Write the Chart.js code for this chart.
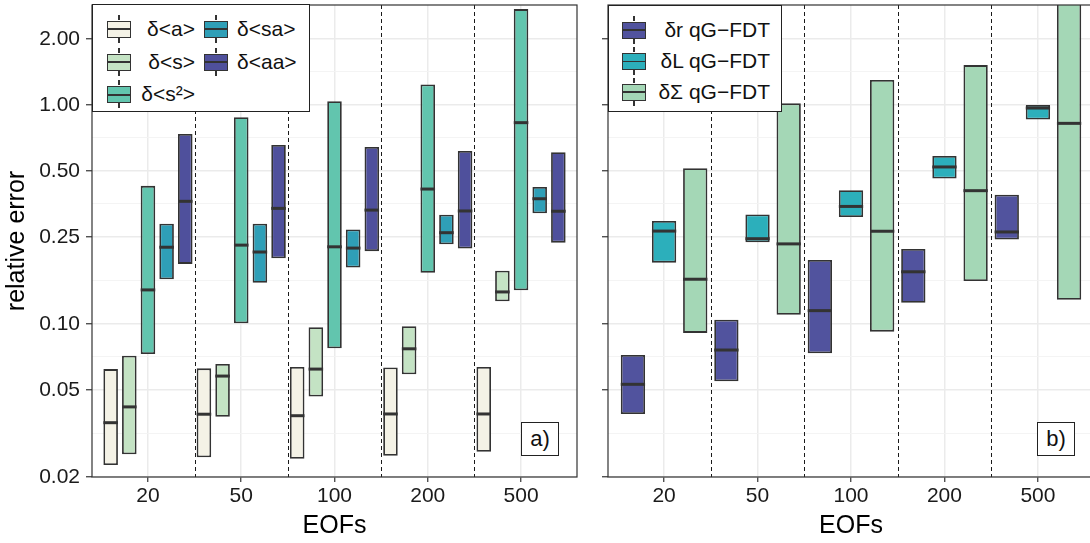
<!DOCTYPE html>
<html>
<head>
<meta charset="utf-8">
<title>relative error vs EOFs</title>
<script src="https://cdn.jsdelivr.net/npm/chart.js@4.4.0/dist/chart.umd.min.js"></script>
<style>
  html, body { margin: 0; padding: 0; background: #fff; overflow: hidden; }
  body { width: 1090px; height: 543px; position: relative; font-family: "Liberation Sans", Arial, sans-serif; }
  canvas { position: absolute; top: 0; }
  #panelA { left: 0; }
  #panelB { left: 590px; }
  .legend { position: absolute; background: #fff; border: 1px solid #222; box-sizing: border-box; }
  .key { position: absolute; width: 24px; height: 17px; box-sizing: border-box; border: 1.8px solid #333; }
  .key::before, .key::after { content: ''; position: absolute; left: calc(50% - 0.75px); width: 1.5px; height: 5px; background: #333; }
  .key::before { top: -6.8px; }
  .key::after { bottom: -6.8px; }
  .lab { position: absolute; font-size: 21px; line-height: 22px; color: #111; white-space: nowrap; }
  .tag { position: absolute; background: #fff; border: 1px solid #222; box-sizing: border-box; font-size: 22px; text-align: center; color: #111; }
</style>
</head>
<body>
<canvas id="panelA" width="590" height="543"></canvas>
<canvas id="panelB" width="515" height="543"></canvas>
<div class="legend" style="left:92px; top:4px; width:218px; height:108px;"></div>
<div class="legend" style="left:608px; top:5px; width:174px; height:107px;"></div>
<div class="tag" style="left:521px; top:422px; width:38px; height:34px; line-height:32px;">a)</div>
<div class="tag" style="left:1037px; top:422px; width:38px; height:34px; line-height:32px;">b)</div>
<script>
const eofs = ['20', '50', '100', '200', '500'];

// y breaks (log scale) and the minor lines between them
const yBreaks = [0.02, 0.05, 0.10, 0.25, 0.50, 1.00, 2.00];
const yMinor = [0.0316, 0.0707, 0.158, 0.354, 0.707, 1.414];
const yMin = 0.02, yMax = 2.86;

// panel a) : observables
const aNames = ['δ<a>', 'δ<s>', 'δ<s²>', 'δ<sa>', 'δ<aa>'];
const aColors = ['#f4f2e6', '#c4e3c4', '#62c5ae', '#2f9fb7', '#4f509c'];

const dA_low  = [0.0227, 0.0246, 0.0242, 0.0250, 0.0261];
const dA_med  = [0.0354, 0.0387, 0.0381, 0.0388, 0.0388];
const dA_high = [0.0622, 0.0627, 0.0636, 0.0633, 0.0636];

const dS_low  = [0.0254, 0.0377, 0.0466, 0.0589, 0.127];
const dS_med  = [0.0418, 0.0578, 0.0622, 0.0770, 0.140];
const dS_high = [0.0716, 0.0656, 0.0966, 0.0976, 0.175];

const dS2_low  = [0.0729, 0.1007, 0.0774, 0.1714, 0.1425];
const dS2_med  = [0.143, 0.229, 0.225, 0.413, 0.830];
const dS2_high = [0.427, 0.878, 1.04, 1.24, 2.74];

const dSA_low  = [0.160, 0.154, 0.181, 0.231, 0.320];
const dSA_med  = [0.224, 0.213, 0.222, 0.261, 0.373];
const dSA_high = [0.287, 0.287, 0.270, 0.315, 0.422];

const dAA_low  = [0.188, 0.1995, 0.215, 0.221, 0.235];
const dAA_med  = [0.363, 0.337, 0.331, 0.328, 0.327];
const dAA_high = [0.737, 0.656, 0.643, 0.616, 0.608];

// panel b) : qG-FDT response
const bNames = ['δr qG−FDT', 'δL qG−FDT', 'δΣ qG−FDT'];
const bColors = ['#51539e', '#2cafbb', '#a4d7b6'];

const dR_low  = [0.0388, 0.0547, 0.0734, 0.125, 0.243];
const dR_med  = [0.053, 0.076, 0.115, 0.173, 0.263];
const dR_high = [0.0721, 0.1045, 0.196, 0.220, 0.389];

const dL_low  = [0.1905, 0.236, 0.308, 0.461, 0.857];
const dL_med  = [0.2655, 0.245, 0.344, 0.521, 0.968];
const dL_high = [0.295, 0.316, 0.408, 0.585, 1.00];

const dSig_low  = [0.091, 0.110, 0.0922, 0.157, 0.129];
const dSig_med  = [0.160, 0.232, 0.265, 0.406, 0.824];
const dSig_high = [0.514, 1.017, 1.30, 1.52, 3.30];

Chart.defaults.font.family = '"Liberation Sans", Arial, sans-serif';

function boxSet(label, color, low, med, high) {
  return {
    label: label,
    data: low.map((v, i) => [v, high[i]]),
    medians: med,
    backgroundColor: color,
    borderColor: '#333',
    borderWidth: 1.8,
    borderSkipped: false,
    categoryPercentage: 1.0,
    barPercentage: 0.78
  };
}

// dashed separators, median bars and the panel frame
const panelDecor = {
  id: 'panelDecor',
  beforeDatasetsDraw(chart) {
    const { ctx, chartArea, scales: { x } } = chart;
    ctx.save();
    ctx.strokeStyle = '#1a1a1a';
    ctx.lineWidth = 1;
    ctx.setLineDash([4, 3]);
    for (let i = 0; i < eofs.length - 1; i++) {
      const px = Math.round((x.getPixelForValue(i) + x.getPixelForValue(i + 1)) / 2) + 0.5;
      ctx.beginPath();
      ctx.moveTo(px, chartArea.top);
      ctx.lineTo(px, chartArea.bottom);
      ctx.stroke();
    }
    ctx.restore();
  },
  afterDatasetsDraw(chart) {
    const { ctx, chartArea, scales: { y } } = chart;
    ctx.save();
    ctx.beginPath();
    ctx.rect(chartArea.left, chartArea.top, chartArea.width, chartArea.height);
    ctx.clip();
    ctx.strokeStyle = '#333';
    ctx.lineWidth = 3;
    chart.data.datasets.forEach((ds, di) => {
      chart.getDatasetMeta(di).data.forEach((bar, i) => {
        const py = y.getPixelForValue(ds.medians[i]);
        ctx.beginPath();
        ctx.moveTo(bar.x - bar.width / 2, py);
        ctx.lineTo(bar.x + bar.width / 2, py);
        ctx.stroke();
      });
    });
    ctx.restore();
    ctx.save();
    ctx.strokeStyle = '#333';
    ctx.lineWidth = 1.2;
    ctx.strokeRect(chartArea.left, chartArea.top, chartArea.width, chartArea.height);
    ctx.restore();
  }
};

const isBreak = v => yBreaks.some(b => Math.abs(b - v) < 1e-9);

function makePanel(id, datasets, showY, padRight) {
  return new Chart(document.getElementById(id), {
    type: 'bar',
    data: { labels: eofs, datasets: datasets },
    plugins: [panelDecor],
    options: {
      responsive: false,
      devicePixelRatio: 1,
      animation: false,
      layout: { padding: { top: 5, right: padRight, left: 0, bottom: 0 } },
      plugins: { legend: { display: false }, tooltip: { enabled: false } },
      scales: {
        x: {
          type: 'category',
          offset: true,
          // ggplot style expansion: 0.6 of a category on each side
          afterBuildTicks(scale) {
            scale._startValue = -0.6;
            scale._valueRange = eofs.length + 0.2;
          },
          afterFit(scale) { scale.height = 66; },
          border: { display: false },
          grid: { offset: false, color: '#ebebeb', lineWidth: 1.5, tickColor: '#333', tickWidth: 1.2, tickLength: 5 },
          ticks: { color: '#1a1a1a', font: { size: 21 }, padding: 2, maxRotation: 0 },
          title: { display: true, text: 'EOFs', color: '#000', font: { size: 25 }, padding: { top: 0, bottom: 2 } }
        },
        y: {
          type: 'logarithmic',
          min: yMin,
          max: yMax,
          bounds: 'data',
          afterBuildTicks(scale) {
            scale.ticks = yBreaks.concat(yMinor).sort((a, b) => a - b).map(v => ({ value: v }));
          },
          // fixed axis width, and no extra room above the top label
          afterFit(scale) {
            scale.width = showY ? 92 : 18;
            scale.paddingTop = 0;
            scale.paddingBottom = 0;
          },
          border: { display: false },
          grid: {
            color: c => isBreak(c.tick.value) ? '#ebebeb' : '#f3f3f3',
            lineWidth: c => isBreak(c.tick.value) ? 1.5 : 0.9,
            tickColor: c => isBreak(c.tick.value) ? '#333' : 'rgba(0,0,0,0)',
            tickWidth: 1.2,
            tickLength: 6
          },
          ticks: {
            display: showY,
            autoSkip: false,
            color: '#1a1a1a',
            font: { size: 21 },
            padding: 6,
            callback: v => isBreak(v) ? v.toFixed(2) : ''
          },
          title: { display: showY, text: 'relative error', color: '#000', font: { size: 25 }, padding: { top: 2, bottom: 0 } }
        }
      }
    }
  });
}

makePanel('panelA', [
  boxSet(aNames[0], aColors[0], dA_low, dA_med, dA_high),
  boxSet(aNames[1], aColors[1], dS_low, dS_med, dS_high),
  boxSet(aNames[2], aColors[2], dS2_low, dS2_med, dS2_high),
  boxSet(aNames[3], aColors[3], dSA_low, dSA_med, dSA_high),
  boxSet(aNames[4], aColors[4], dAA_low, dAA_med, dAA_high)
], true, 13);

makePanel('panelB', [
  boxSet(bNames[0], bColors[0], dR_low, dR_med, dR_high),
  boxSet(bNames[1], bColors[1], dL_low, dL_med, dL_high),
  boxSet(bNames[2], bColors[2], dSig_low, dSig_med, dSig_high)
], false, 11);

// legend entries: key glyph (mini box plot) plus label
function legendEntry(name, color, keyX, rowY, labX, alignRight) {
  const key = document.createElement('div');
  key.className = 'key';
  key.style.left = keyX + 'px';
  key.style.top = (rowY - 8.5) + 'px';
  key.style.background = 'linear-gradient(to bottom, ' + color + ' 0, ' + color + ' calc(50% - 1px), #333 calc(50% - 1px), #333 calc(50% + 1px), ' + color + ' calc(50% + 1px))';
  document.body.appendChild(key);
  const lab = document.createElement('div');
  lab.className = 'lab';
  lab.textContent = name;
  lab.style.top = (rowY - 11) + 'px';
  if (alignRight) lab.style.right = (1090 - labX) + 'px';
  else lab.style.left = labX + 'px';
  document.body.appendChild(lab);
}

const aRows = [29, 62, 94];
legendEntry(aNames[0], aColors[0], 107, aRows[0], 195, true);
legendEntry(aNames[1], aColors[1], 107, aRows[1], 195, true);
legendEntry(aNames[2], aColors[2], 107, aRows[2], 195, true);
legendEntry(aNames[3], aColors[3], 204, aRows[0], 237, false);
legendEntry(aNames[4], aColors[4], 204, aRows[1], 237, false);

const bRows = [30, 61, 92];
bNames.forEach((n, i) => legendEntry(n, bColors[i], 622, bRows[i], 770, true));
</script>
</body>
</html>
